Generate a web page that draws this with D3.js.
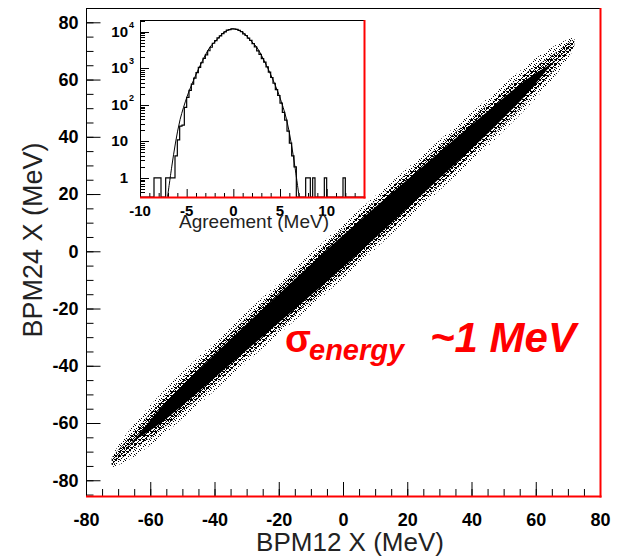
<!DOCTYPE html>
<meta charset="utf-8">
<style>
body { margin: 0; background: #fff; }
svg { display: block; font-family: "Liberation Sans", Arial, Helvetica, sans-serif; }
</style>
<script src="https://cdn.jsdelivr.net/npm/d3@7"></script>
<body>
<svg width="621" height="559"></svg>
<script>

// ---- main scatter: BPM24 X vs BPM12 X, drawn as a dense band ----
var xTicks = [-80, -60, -40, -20, 0, 20, 40, 60, 80];
var yTicks = [-80, -60, -40, -20, 0, 20, 40, 60, 80];

var bandX      = [-72, -68, -64, -60, -56, -52, -46, -40, -30, -20, -10, 0, 10, 20, 30, 40, 46, 52, 56, 60, 64, 68, 72];
var bandOffset = [-1.5, -1.2, -1, -0.8, -0.6, -0.4, -0.3, -0.2, 0, 0, 0, 0, 0, 0, 0, 0, 0, 0.2, 0.3, 0.4, 0.5, 0.6, 0.8];
var coreHalf   = [0, 0, 0.5, 1.8, 2.8, 3.3, 3.8, 4.1, 4.6, 5.0, 5.4, 5.6, 5.4, 5.0, 4.6, 4.2, 3.8, 3.3, 2.8, 1.8, 0.5, 0, 0];
var haloHalf   = [2, 4.5, 6, 7, 7.6, 8, 8.3, 8.5, 8.8, 9, 9.3, 9.5, 9.3, 9, 8.8, 8.5, 8.3, 8, 7.6, 7, 6, 4.5, 2];

// ---- inset: agreement histogram (0.25 MeV bins from -10) ----
var histStart = -10, binW = 0.25;
var histCounts = [
  0, 0, 0, 0, 0, 0, 1, 1, 1, 0, 0, 1, 1, 1, 1,
  4, 11, 26, 28, 85, 160, 250, 370, 540, 760, 1060, 1420, 1880, 2330, 3020,
  3770, 4850, 5700, 6800, 7750, 8950, 9900, 11100, 11400, 12100, 11900, 11600, 10900, 10100, 8800,
  7900, 6700, 5800, 4750, 3850, 3000, 2400, 1830, 1470, 1090, 790, 560, 390, 262, 180,
  112, 62, 38, 19, 9, 4, 2,
  0, 0, 0, 0, 1, 1, 0, 1, 0, 0, 0, 0, 1, 0, 0, 0, 0, 0, 0, 0, 1, 0, 0, 0, 0, 0, 0, 0, 0
];
var fitX = [-7.05, -6.6, -6.2, -5.7, -4.95, -4.25, -3.55, -2.5, -1.8, -1.0, 0, 1.0, 1.8, 2.5, 3.55, 4.25, 4.95, 5.7, 6.2, 6.6, 7.05];
var fitY = [0.3, 2, 9, 40, 170, 480, 1200, 3800, 5900, 9700, 12000, 9700, 5900, 3800, 1200, 480, 170, 40, 9, 2, 0.3];
var insetXTicks = [-10, -5, 0, 5, 10];
var insetYTicks = [1, 10, 100, 1000, 10000];

var svg = d3.select("svg");

var m = {left: 86, right: 600, top: 8, bottom: 496};
var x = d3.scaleLinear().domain([-80, 80]).range([m.left, m.right]);
var y = d3.scaleLinear().domain([-85.5, 85]).range([m.bottom, m.top]);

// plain hyphen minus, as in the original
var fmt = function(d) { return String(d); };

// speckle textures for the sparse edge of the scatter
var defs = svg.append("defs");
function speckle(id, size, dots) {
  var p = defs.append("pattern").attr("id", id)
      .attr("width", size).attr("height", size)
      .attr("patternUnits", "userSpaceOnUse");
  p.selectAll("rect").data(dots).enter().append("rect")
      .attr("x", function(d) { return d[0]; })
      .attr("y", function(d) { return d[1]; })
      .attr("width", 1).attr("height", 1).attr("fill", "#000");
}
speckle("speckDense", 4, [[0, 0], [2, 1], [1, 2], [3, 3], [0, 3], [3, 0], [2, 3]]);
speckle("speckSparse", 5, [[0, 0], [3, 1], [1, 3], [4, 4]]);

var band = bandX.map(function(v, i) {
  return {x: v, c: v + bandOffset[i], core: coreHalf[i], halo: haloHalf[i]};
});
function bandArea(w) {
  return d3.area().curve(d3.curveMonotoneX)
      .x(function(d) { return x(d.x); })
      .y0(function(d) { return y(d.c - w(d)); })
      .y1(function(d) { return y(d.c + w(d)); });
}
svg.append("path").datum(band).attr("d", bandArea(function(d) { return d.halo; }))
    .attr("fill", "url(#speckSparse)");
svg.append("path").datum(band).attr("d", bandArea(function(d) { return (d.halo + 2 * d.core) / 3 + 0.8; }))
    .attr("fill", "url(#speckDense)");
svg.append("path").datum(band).attr("d", bandArea(function(d) { return d.core; }))
    .attr("fill", "#000");

// frame
svg.append("rect")
    .attr("x", m.left + 0.5).attr("y", m.top + 0.5)
    .attr("width", m.right - m.left).attr("height", m.bottom - m.top)
    .attr("fill", "none").attr("stroke", "#000");

// axes, ticks pointing inward like ROOT
function styleAxis(g, size) {
  g.select(".domain").remove();
  g.attr("font-family", null).attr("font-size", null);
  g.selectAll("line").attr("stroke", "#000");
  g.selectAll("text").attr("font-size", size).attr("font-weight", "bold").attr("fill", "#000");
}
svg.append("g").attr("transform", "translate(0," + m.bottom + ")")
    .call(d3.axisBottom(x).ticks(32).tickSize(-7).tickFormat(""))
    .call(styleAxis, 18);
svg.append("g").attr("transform", "translate(0," + m.bottom + ")")
    .call(d3.axisBottom(x).tickValues(xTicks).tickSize(-14).tickPadding(17).tickFormat(fmt))
    .call(styleAxis, 18);
svg.append("g").attr("transform", "translate(" + (m.left + 0.5) + ",0)")
    .call(d3.axisLeft(y).ticks(32).tickSize(-7).tickFormat(""))
    .call(styleAxis, 18);
svg.append("g").attr("transform", "translate(" + (m.left + 0.5) + ",0)")
    .call(d3.axisLeft(y).tickValues(yTicks).tickSize(-14).tickPadding(8).tickFormat(fmt))
    .call(styleAxis, 18);

// red bottom / right lines
svg.append("line").attr("x1", m.left).attr("x2", m.right + 1.5)
    .attr("y1", m.bottom + 0.5).attr("y2", m.bottom + 0.5)
    .attr("stroke", "#f00").attr("stroke-width", 2);
svg.append("line").attr("x1", m.right + 0.5).attr("x2", m.right + 0.5)
    .attr("y1", m.top).attr("y2", m.bottom + 1.5)
    .attr("stroke", "#f00").attr("stroke-width", 2);

// axis titles
svg.append("text").attr("x", 350).attr("y", 551)
    .attr("text-anchor", "middle").attr("font-size", 26).attr("fill", "#222")
    .text("BPM12 X (MeV)");
svg.append("text").attr("transform", "translate(42,240) rotate(-90)")
    .attr("text-anchor", "middle").attr("font-size", 27).attr("fill", "#222")
    .text("BPM24 X (MeV)");

// annotation
var note = svg.append("g").attr("fill", "#f00").attr("font-weight", "bold");
note.append("text").attr("x", 285).attr("y", 352).attr("font-size", 38).text("σ");
note.append("text").attr("x", 309).attr("y", 360).attr("font-size", 29)
    .attr("font-style", "italic").text("energy");
note.append("text").attr("x", 430).attr("y", 352).attr("font-size", 42)
    .attr("font-style", "italic").text("~1 MeV");

// ---- inset ----
var im = {left: 140, right: 364, top: 20, bottom: 197};
var ix = d3.scaleLinear().domain([-10, 14]).range([im.left, im.right]);
var iy = d3.scaleLog().domain([0.3, 21000]).range([im.bottom, im.top]);

var inset = svg.append("g");
inset.append("rect")
    .attr("x", im.left + 0.5).attr("y", im.top + 0.5)
    .attr("width", im.right - im.left).attr("height", im.bottom - im.top)
    .attr("fill", "#fff").attr("stroke", "#000");

defs.append("clipPath").attr("id", "insetClip").append("rect")
    .attr("x", im.left).attr("y", im.top)
    .attr("width", im.right - im.left).attr("height", im.bottom - im.top);

var pts = [[ix(histStart), im.bottom]];
histCounts.forEach(function(c, i) {
  var x0 = histStart + i * binW;
  var yy = c > 0 ? iy(c) : im.bottom;
  pts.push([ix(x0), yy], [ix(x0 + binW), yy]);
});
pts.push([ix(histStart + histCounts.length * binW), im.bottom]);

inset.append("path").attr("clip-path", "url(#insetClip)")
    .attr("d", d3.line()(pts))
    .attr("fill", "none").attr("stroke", "#000").attr("stroke-width", 1.2);

var fit = fitX.map(function(v, i) { return [v, fitY[i]]; });
inset.append("path").attr("clip-path", "url(#insetClip)")
    .attr("d", d3.line().curve(d3.curveCatmullRom)
        .x(function(d) { return ix(d[0]); })
        .y(function(d) { return iy(d[1]); })(fit))
    .attr("fill", "none").attr("stroke", "#000").attr("stroke-width", 1);

// inset ticks
var ixMinor = d3.range(-10, 14, 1);
inset.selectAll(".ixminor").data(ixMinor).enter().append("line")
    .attr("x1", function(d) { return ix(d) + 0.5; }).attr("x2", function(d) { return ix(d) + 0.5; })
    .attr("y1", im.bottom).attr("y2", function(d) { return insetXTicks.indexOf(d) >= 0 ? im.bottom - 8 : im.bottom - 4; })
    .attr("stroke", "#000");
var iyMinor = iy.ticks().filter(function(d) { return d >= 0.3 && d <= 21000; });
inset.selectAll(".iyminor").data(iyMinor).enter().append("line")
    .attr("y1", function(d) { return Math.round(iy(d)) + 0.5; }).attr("y2", function(d) { return Math.round(iy(d)) + 0.5; })
    .attr("x1", im.left).attr("x2", function(d) { return insetYTicks.indexOf(d) >= 0 ? im.left + 9 : im.left + 5; })
    .attr("stroke", "#000");

inset.selectAll(".ixlab").data(insetXTicks).enter().append("text")
    .attr("x", function(d) { return ix(d); }).attr("y", 216)
    .attr("text-anchor", "middle").attr("font-size", 15).attr("font-weight", "bold")
    .text(fmt);

insetYTicks.forEach(function(d) {
  var yy = iy(d) + 5;
  var exp = Math.round(Math.log10(d));
  inset.append("text").attr("x", 128).attr("y", yy)
      .attr("text-anchor", "end").attr("font-size", 15).attr("font-weight", "bold")
      .text(exp <= 1 ? String(d) : "10");
  if (exp > 1) {
    inset.append("text").attr("x", 129).attr("y", yy - 9)
        .attr("font-size", 9).attr("font-weight", "bold").text(exp);
  }
});

inset.append("text").attr("x", 254).attr("y", 228)
    .attr("text-anchor", "middle").attr("font-size", 19).attr("fill", "#222")
    .text("Agreement (MeV)");

// inset red bottom / right lines
inset.append("line").attr("x1", im.left).attr("x2", im.right + 1.5)
    .attr("y1", im.bottom + 0.5).attr("y2", im.bottom + 0.5)
    .attr("stroke", "#f00").attr("stroke-width", 2);
inset.append("line").attr("x1", im.right + 0.5).attr("x2", im.right + 0.5)
    .attr("y1", im.top).attr("y2", im.bottom + 1.5)
    .attr("stroke", "#f00").attr("stroke-width", 2);

</script>
</body>
